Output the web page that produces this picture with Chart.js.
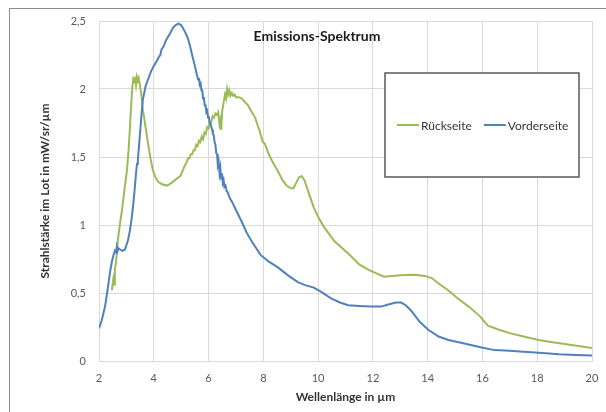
<!DOCTYPE html>
<html>
<head>
<meta charset="utf-8">
<script src="https://cdn.jsdelivr.net/npm/chart.js@4/dist/chart.umd.min.js"></script>
<style>
  html, body { margin: 0; padding: 0; background: #fff; }
  #wrap { position: relative; width: 606px; height: 412px; overflow: hidden; }
  #frame { position: absolute; left: 9px; top: 8px; width: 700px; height: 500px; border: 1px solid #8c8c8c; }
  #chart { position: absolute; left: 0; top: 0; }
</style>
</head>
<body>
<div id="wrap">
  <div id="frame"></div>
  <canvas id="chart" width="606" height="412"></canvas>
</div>
<script>
const chartTitle = 'Emissions-Spektrum';
const xTitle = 'Wellenlänge in µm';
const yTitle = 'Strahlstärke im Lot in mW/sr/µm';

// Rückseite (green)
const wlBack = [
  2.47, 2.52, 2.55, 2.58, 2.62, 2.69, 2.76, 2.84, 2.93, 3.02,
  3.08, 3.13, 3.18, 3.22, 3.25, 3.28, 3.31, 3.35, 3.38, 3.42,
  3.45, 3.5, 3.55, 3.6, 3.7, 3.79, 3.88, 3.97, 4.06, 4.15,
  4.3, 4.49, 4.65, 4.77, 4.97, 5.14, 5.2, 5.25, 5.3, 5.35,
  5.4, 5.45, 5.5, 5.55, 5.6, 5.65, 5.7, 5.75, 5.8, 5.85,
  5.9, 5.95, 6.0, 6.05, 6.1, 6.15, 6.2, 6.25, 6.3, 6.35,
  6.4, 6.43, 6.46, 6.5, 6.55, 6.6, 6.64, 6.68, 6.72, 6.76,
  6.8, 6.85, 6.9, 6.95, 7.0, 7.1, 7.22, 7.3, 7.44, 7.55,
  7.7, 7.85, 7.98, 8.05, 8.2, 8.35, 8.52, 8.7, 8.85, 9.0,
  9.1, 9.2, 9.3, 9.4, 9.5, 9.6, 9.7, 9.84, 10.0, 10.2,
  10.6, 11.1, 11.5, 11.85, 12.4, 13.0, 13.5, 13.9, 14.15, 14.4,
  14.75, 15.1, 15.5, 15.9, 16.2, 16.6, 17.0, 17.5, 18.05, 18.5,
  19.0, 19.5, 20.0,
];
const valBack = [
  0.52, 0.60, 0.56, 0.68, 0.72, 0.89, 1.00, 1.11, 1.26, 1.40,
  1.55, 1.72, 1.90, 2.02, 2.07, 2.05, 2.09, 2.03, 2.09, 2.06,
  2.08, 2.02, 1.95, 1.85, 1.72, 1.60, 1.49, 1.40, 1.35, 1.32,
  1.30, 1.29, 1.31, 1.33, 1.36, 1.44, 1.46, 1.49, 1.49, 1.52,
  1.52, 1.55, 1.55, 1.59, 1.58, 1.62, 1.61, 1.65, 1.63, 1.68,
  1.67, 1.72, 1.71, 1.76, 1.76, 1.80, 1.79, 1.82, 1.81, 1.83,
  1.74, 1.77, 1.70, 1.84, 1.90, 1.96, 1.93, 2.00, 1.96, 1.99,
  1.95, 1.97, 1.95, 1.96, 1.94, 1.94, 1.93, 1.91, 1.88, 1.84,
  1.79, 1.70, 1.61, 1.60, 1.52, 1.46, 1.40, 1.33, 1.29, 1.27,
  1.27, 1.31, 1.35, 1.36, 1.33, 1.27, 1.21, 1.13, 1.06, 0.99,
  0.88, 0.79, 0.71, 0.67, 0.62, 0.63, 0.635, 0.625, 0.61, 0.57,
  0.52, 0.46, 0.40, 0.33, 0.26, 0.23, 0.205, 0.18, 0.155, 0.14,
  0.125, 0.11, 0.095,
];

// Vorderseite (blue)
const wlFront = [
  2.0, 2.1, 2.22, 2.31, 2.4, 2.47, 2.53, 2.58, 2.62, 2.65,
  2.68, 2.71, 2.77, 2.85, 2.95, 3.06, 3.13, 3.2, 3.26, 3.31,
  3.36, 3.39, 3.42, 3.46, 3.5, 3.55, 3.6, 3.7, 3.79, 3.9,
  4.0, 4.12, 4.2, 4.24, 4.28, 4.35, 4.45, 4.6, 4.7, 4.8,
  4.9, 5.0, 5.14, 5.25, 5.33, 5.4, 5.5, 5.58, 5.62, 5.65,
  5.68, 5.71, 5.74, 5.77, 5.8, 5.83, 5.86, 5.89, 5.92, 5.95,
  5.98, 6.01, 6.04, 6.07, 6.1, 6.13, 6.16, 6.19, 6.22, 6.25,
  6.28, 6.31, 6.34, 6.37, 6.4, 6.43, 6.46, 6.49, 6.52, 6.55,
  6.58, 6.62, 6.66, 6.7, 6.75, 6.8, 6.86, 7.0, 7.22, 7.4,
  7.59, 7.9, 8.2, 8.52, 8.9, 9.26, 9.5, 9.84, 10.1, 10.47,
  10.8, 11.1, 11.5, 11.93, 12.3, 12.56, 12.84, 13.03, 13.2, 13.4,
  13.7, 14.02, 14.4, 14.76, 15.3, 15.97, 16.44, 17.0, 17.5, 18.06,
  18.8, 19.4, 20.0,
];
const valFront = [
  0.24, 0.30, 0.40, 0.52, 0.65, 0.73, 0.78, 0.81, 0.80, 0.84,
  0.81, 0.83, 0.82, 0.81, 0.82, 0.89, 0.96, 1.06, 1.17, 1.28,
  1.40, 1.45, 1.48, 1.58, 1.68, 1.81, 1.92, 2.02, 2.07, 2.13,
  2.17, 2.21, 2.24, 2.25, 2.29, 2.31, 2.36, 2.41, 2.45, 2.47,
  2.48, 2.47, 2.42, 2.37, 2.31, 2.25, 2.17, 2.10, 2.07, 2.08,
  2.03, 2.04, 1.99, 1.99, 1.93, 1.94, 1.88, 1.88, 1.83, 1.84,
  1.79, 1.80, 1.75, 1.75, 1.72, 1.70, 1.67, 1.66, 1.61, 1.59,
  1.53, 1.52, 1.44, 1.46, 1.38, 1.42, 1.34, 1.38, 1.31, 1.33,
  1.28, 1.29, 1.25, 1.24, 1.21, 1.19, 1.17, 1.11, 1.02, 0.94,
  0.875, 0.78, 0.73, 0.69, 0.63, 0.58, 0.56, 0.54, 0.51, 0.46,
  0.43, 0.41, 0.405, 0.40, 0.40, 0.415, 0.43, 0.43, 0.41, 0.37,
  0.29, 0.23, 0.18, 0.155, 0.13, 0.10, 0.08, 0.075, 0.068, 0.06,
  0.05, 0.045, 0.04,
];

const seriesNames = ['Rückseite', 'Vorderseite'];
const xTicks = { min: 2, max: 20, step: 2 };
const yTicks = { min: 0, max: 2.5, step: 0.5 };

const FONT = 'Lato, "Open Sans", sans-serif';

function toPoints(xs, ys) {
  return xs.map((x, i) => ({ x: x, y: ys[i] }));
}

// title + boxed legend drawn over the plot area, like the Excel original
const overlay = {
  id: 'overlay',
  afterDraw(chart) {
    const ctx = chart.ctx;
    ctx.save();

    ctx.font = 'bold 14px ' + FONT;
    ctx.fillStyle = '#1a1a1a';
    ctx.textAlign = 'center';
    ctx.textBaseline = 'middle';
    ctx.fillText(chartTitle, 317, 36);

    ctx.fillStyle = '#ffffff';
    ctx.fillRect(385, 73, 194, 104);
    ctx.strokeStyle = '#595959';
    ctx.lineWidth = 1.5;
    ctx.strokeRect(385, 73, 194, 104);

    ctx.font = '12px ' + FONT;
    ctx.textAlign = 'left';
    let x = 397;
    const y = 125;
    chart.data.datasets.forEach((ds) => {
      ctx.strokeStyle = ds.borderColor;
      ctx.lineWidth = 2;
      ctx.beginPath();
      ctx.moveTo(x, y);
      ctx.lineTo(x + 22, y);
      ctx.stroke();
      ctx.fillStyle = '#333333';
      ctx.fillText(ds.label, x + 24, y + 1);
      x += 24 + ctx.measureText(ds.label).width + 12;
    });
    ctx.restore();
  },
};

function createChart() {
  const ctx = document.getElementById('chart').getContext('2d');
  const config = {
    type: 'line',
    data: {
      datasets: [
        {
          label: seriesNames[0],
          data: toPoints(wlBack, valBack),
          borderColor: '#9BBB59',
          borderWidth: 2,
          pointRadius: 0,
          tension: 0,
          order: 1,
        },
        {
          label: seriesNames[1],
          data: toPoints(wlFront, valFront),
          borderColor: '#4F81BD',
          borderWidth: 2,
          pointRadius: 0,
          tension: 0,
          order: 0,
        },
      ],
    },
    options: {
      responsive: false,
      animation: false,
      layout: { padding: { top: 21, right: 14, left: 0, bottom: 0 } },
      plugins: {
        legend: { display: false },
        title: { display: false },
        tooltip: { enabled: false },
      },
      scales: {
        x: {
          type: 'linear',
          min: xTicks.min,
          max: xTicks.max,
          afterFit: (scale) => {
            scale.height = 51;
            scale.paddingLeft = 0;
            scale.paddingRight = 0;
          },
          ticks: {
            stepSize: xTicks.step,
            padding: 11,
            color: '#595959',
            font: { family: FONT, size: 11 },
            maxRotation: 0,
          },
          grid: { color: '#d9d9d9', drawTicks: false },
          border: { color: '#d9d9d9' },
          title: {
            display: true,
            text: xTitle,
            color: '#333333',
            font: { family: FONT, size: 12, weight: 'bold' },
            padding: { top: 0, bottom: 8 },
          },
        },
        y: {
          min: yTicks.min,
          max: yTicks.max,
          afterFit: (scale) => { scale.width = 99; },
          ticks: {
            stepSize: yTicks.step,
            padding: 13,
            color: '#595959',
            font: { family: FONT, size: 11 },
            callback: (v) => String(v).replace('.', ','),
          },
          grid: { color: '#d9d9d9', drawTicks: false },
          border: { color: '#d9d9d9' },
          title: {
            display: true,
            text: yTitle,
            color: '#333333',
            font: { family: FONT, size: 12, weight: 'bold' },
            padding: { top: 38, bottom: 0 },
          },
        },
      },
    },
    plugins: [overlay],
  };
  return new Chart(ctx, config);
}

createChart();
</script>
</body>
</html>
